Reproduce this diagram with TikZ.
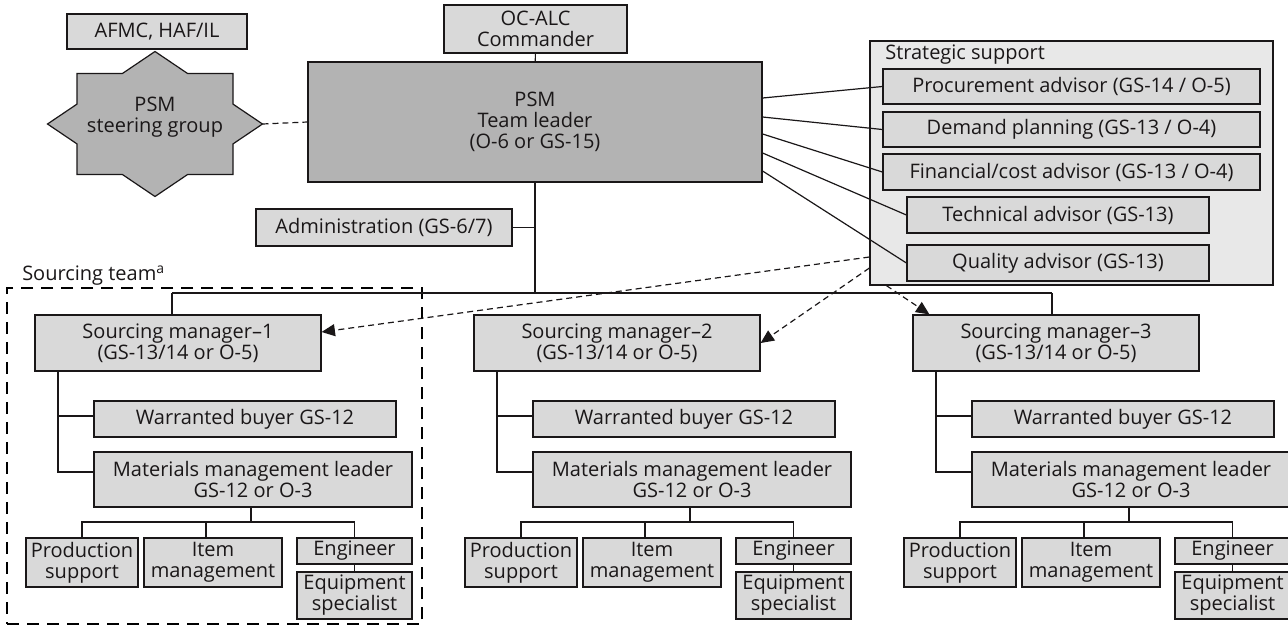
\documentclass[tikz,border=0pt]{standalone}
\usepackage{fontspec}
\setmainfont{Open Sans}
\usetikzlibrary{arrows.meta,calc}

\definecolor{ink}{HTML}{1A1718}
\definecolor{boxgray}{HTML}{D9D9D9}
\definecolor{leadgray}{HTML}{B3B3B3}
\definecolor{stratgray}{HTML}{E8E8E8}

\tikzset{
  wh/.style 2 args={minimum width=#1*0.75pt, minimum height=#2*0.75pt},
  unit/.style={draw=ink, fill=boxgray, line width=0.9pt, inner sep=0pt, align=center,
    text=ink, font=\fontsize{15}{15.8}\selectfont},
  leadbox/.style={unit, fill=leadgray},
  link/.style={draw=ink, line width=0.9pt},
  dashlink/.style={link, dash pattern=on 4.5pt off 3pt},
  advarrow/.style={-{Triangle[length=10pt,width=9pt]}},
  teamframe/.style={draw=black, line width=1.6pt, dash pattern=on 9pt off 6pt},
  tag/.style={text=ink, inner sep=0pt, font=\fontsize{15}{15.8}\selectfont}
}

\begin{document}
\begin{tikzpicture}[x=0.75pt,y=-0.75pt]
\useasboundingbox (0,0) rectangle (1288,626);

% top of the chart
\node[unit, wh={180}{35}] (afmc) at (157,31.5) {AFMC, HAF/IL};
\draw[link, fill=leadgray, shift={(155,124)}] (0,-72.5) -- (32.6,-50.5) -- (78,-50.5) -- (78,-19.9)
  -- (107.5,0) -- (78,19.9) -- (78,50.5) -- (32.6,50.5) -- (0,72.5) -- (-32.6,50.5)
  -- (-78,50.5) -- (-78,19.9) -- (-107.5,0) -- (-78,-19.9) -- (-78,-50.5) -- (-32.6,-50.5) -- cycle;
\node[tag, align=center] (steer) at (155,117) {PSM\\steering group};
\coordinate (steerE) at (262.5,124);

\node[unit, wh={183}{48}] (ocalc) at (535.5,29) {OC-ALC\\Commander};
\node[leadbox, wh={454}{120}] (leader) at (535,122) {PSM\\Team leader\\(O-6 or GS-15)};
\node[unit, wh={256}{37}] (admin) at (384,227.5) {Administration (GS-6/7)};

% strategic support
\node[unit, fill=stratgray, wh={403}{244}] (strat) at (1071.5,163) {};
\node[tag, anchor=base west] (stratlbl) at (885,59) {Strategic support};
\node[unit, wh={377}{35}] (proc) at (1071.5,86.5) {Procurement advisor (GS-14 / O-5)};
\node[unit, wh={377}{35}] (demand) at (1071.5,129.5) {Demand planning (GS-13 / O-4)};
\node[unit, wh={377}{36}] (fin) at (1071.5,172) {Financial/cost advisor (GS-13 / O-4)};
\node[unit, wh={302}{36}] (tech) at (1058,215) {Technical advisor (GS-13)};
\node[unit, wh={302}{36}] (qual) at (1058,263) {Quality advisor (GS-13)};

% sourcing team frame
\node[teamframe, wh={415}{336}] (srcteam) at (214.5,456) {};
\node[tag, anchor=base west] (teamlbl) at (22,280) {Sourcing team\textsuperscript{a}};

% the three sourcing columns
\foreach \i/\dx in {1/0, 2/439, 3/878} {
  \node[unit, wh={286}{56}] (sm\i) at (178+\dx,343) {Sourcing manager--\i\\(GS-13/14 or O-5)};
  \node[unit, wh={302}{36}] (wb\i) at (245+\dx,419) {Warranted buyer GS-12};
  \node[unit, wh={318}{55}] (mml\i) at (253+\dx,479.5) {Materials management leader\\GS-12 or O-3};
  \node[unit, wh={112}{49}] (ps\i) at (82+\dx,562.5) {Production\\support};
  \node[unit, wh={138}{49}] (im\i) at (213+\dx,562.5) {Item\\management};
  \node[unit, wh={115}{26}] (eng\i) at (354.5+\dx,551) {Engineer};
  \node[unit, wh={115}{47}] (eq\i) at (354.5+\dx,595.5) {Equipment\\specialist};

  \coordinate (spine\i) at (58+\dx,371);
  \coordinate (fork\i) at (251+\dx,522);
  \draw[link] (spine\i) |- ($(wb\i.west)+(0,-3)$);
  \draw[link] (spine\i) |- ($(mml\i.west)+(0,-7.5)$);
  \draw[link] (fork\i |- mml\i.south) -- (fork\i);
  \draw[link] (ps\i.north) |- (fork\i) -| (eng\i.north);
  \draw[link] ($(im\i.north)+(-7,0)$) -- ++(0,-16);
  \draw[link] (eng\i) -- (eq\i);
}

% reporting lines
\coordinate (busL) at (172,293);
\coordinate (busR) at (1052,293);
\draw[link] (busL) -- (busR);
\draw[link] (ocalc) -- (leader);
\draw[link] (leader.south) -- (leader.south |- busL);
\draw[link] (admin.east) -- (admin.east -| leader.south);
\draw[link] (busL) -- (busL |- sm1.north);
\draw[link] (busR) -- (busR |- sm3.north);
\draw[dashlink] (steerE) -- (leader.west);

\foreach \dy/\to in {-24/proc, -5/demand, 12/fin, 31/tech, 49/qual}
  \draw[link] ($(leader.east)+(0,\dy)$) -- (\to.west);

\draw[dashlink, advarrow] ($(strat.west)+(0,94)$) -- ($(sm1.east)+(0,-11)$);
\draw[dashlink, advarrow] ($(strat.west)+(0,105)$) -- (sm2.east);
\draw[dashlink, advarrow] ($(strat.south west)+(17,0)$) -- ($(sm3.north west)+(17,0)$);

\end{tikzpicture}
\end{document}
